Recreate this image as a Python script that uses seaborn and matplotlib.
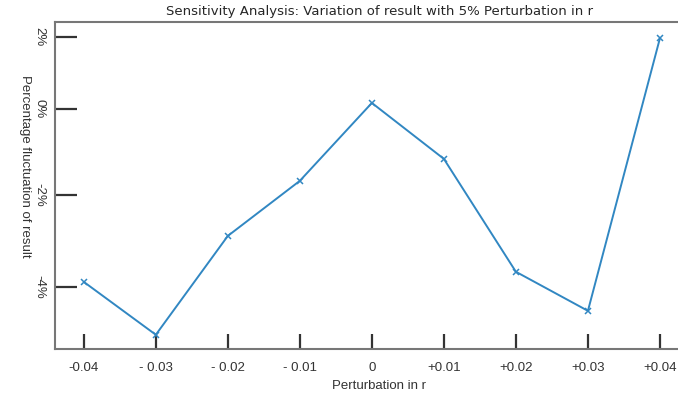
import numpy as np
import pandas as pd
import matplotlib
matplotlib.use("Agg")
import matplotlib.pyplot as plt
import seaborn as sns

# data
perturbation = [-0.04, -0.03, -0.02, -0.01, 0.0, 0.01, 0.02, 0.03, 0.04]
fluctuation = [-3.89, -5.04, -2.89, -1.67, 0.17, -1.16, -3.67, -4.52, 1.97]

x_ticks = [-0.04, -0.03, -0.02, -0.01, 0.0, 0.01, 0.02, 0.03, 0.04]
x_ticklabels = ["-0.04", "- 0.03", "- 0.02", "- 0.01", "0", "+0.01", "+0.02", "+0.03", "+0.04"]
y_ticks = [2, 0, -2, -4]
y_ticklabels = ["2%", "0%", "-2%", "-4%"]

# the original axis is not evenly spaced between its labels: piecewise scale
scale_in = [-6, -4, -2, 0, 2, 4]
scale_out = [-379, -287, -195, -109, -37, 35]


def fwd(v):
    return np.interp(v, scale_in, scale_out)


def inv(v):
    return np.interp(v, scale_out, scale_in)


df = pd.DataFrame({"perturbation": perturbation, "fluctuation": fluctuation})

sns.set_theme(style="white")
plt.rcParams["font.family"] = ["Liberation Sans", "DejaVu Sans"]

fig = plt.figure(figsize=(6.78, 3.94), dpi=100)
ax = fig.add_axes([0.0811, 0.1142, 0.956, 0.830])

sns.lineplot(data=df, x="perturbation", y="fluctuation", marker="x",
             color="#3187c2", linewidth=1.4, markersize=5, markeredgewidth=1.1,
             markeredgecolor="#3187c2", ax=ax)

ax.set_yscale("function", functions=(fwd, inv))
ax.set_xlim(-0.0440, 0.0460)
ax.set_ylim(-5.35, 2.42)

ax.set_xticks(x_ticks)
ax.set_xticklabels(x_ticklabels)
ax.set_yticks(y_ticks)
ax.set_yticklabels(y_ticklabels, rotation=-90, va="center")
ax.minorticks_off()

ax.tick_params(axis="x", bottom=True, direction="in", length=11, width=1.6,
               color="#333333", pad=9, labelsize=9.5, labelcolor="#333333")
ax.tick_params(axis="y", left=True, direction="in", length=16, width=1.6,
               color="#333333", pad=7, labelsize=9.5, labelcolor="#333333")

for side in ["top", "left", "bottom", "right"]:
    ax.spines[side].set_color("#777777")
    ax.spines[side].set_linewidth(1.5)

ax.set_title("Sensitivity Analysis: Variation of result with 5% Perturbation in r",
             fontsize=9.5, family="DejaVu Sans", pad=5)
ax.set_xlabel("Perturbation in r", fontsize=9.5, color="#333333", labelpad=5)
ax.set_ylabel("Percentage fluctuation of result", fontsize=9.5, color="#333333",
              rotation=-90, labelpad=6)
ax.yaxis.set_label_coords(-0.055, 0.56)

fig.savefig("out.png", dpi=100)
